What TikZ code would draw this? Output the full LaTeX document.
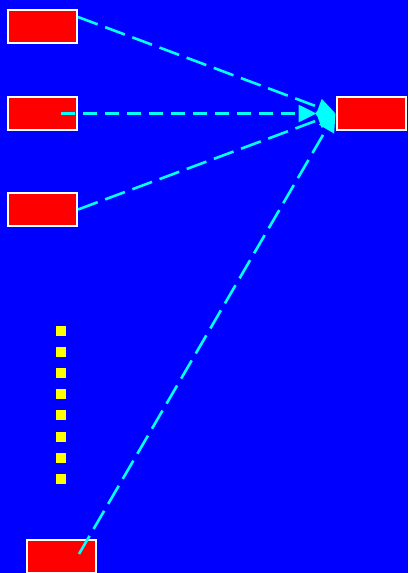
\documentclass[tikz,border=0pt]{standalone}
\usetikzlibrary{arrows.meta}
\definecolor{bg}{RGB}{0,0,255}
\definecolor{boxred}{RGB}{255,0,0}
\definecolor{cy}{RGB}{0,255,255}
\definecolor{yel}{RGB}{255,255,0}
\tikzset{
  redbox/.style={draw=white, fill=boxred, line width=2pt, minimum width=69pt, minimum height=33pt, inner sep=0pt},
  conn/.style={draw=cy, line width=2.6pt, -{Triangle[length=18pt,width=17pt]}},
  longdash/.style={dash pattern=on 21pt off 8pt},
  shortdash/.style={dash pattern=on 14pt off 8pt},
  ysq/.style={fill=yel}
}
\begin{document}
\begin{tikzpicture}[x=1pt,y=-1pt]
\useasboundingbox (0,0) rectangle (408,573);
\fill[bg] (0,0) rectangle (408,573);
\node[redbox] (a) at (42.5,26.5) {};
\node[redbox] (b) at (42.5,113.5) {};
\node[redbox] (c) at (42.5,209.5) {};
\node[redbox] (r) at (371,113.5) {};
\node[redbox] (d) at (61,556) {};
\coordinate (bs) at (61,113.5);
\coordinate (ds) at (79,554);
\foreach \i in {0,...,7} {
  \fill[ysq] (56,{325.5+21.2*\i}) rectangle (66,{335.5+21.2*\i});
}
\draw[conn,longdash] (a.15) -- (r.west);
\draw[conn,shortdash,shorten >=19pt] (bs) -- (r.west);
\draw[conn,longdash] (c.east) -- (r.west);
\draw[conn,longdash] (ds) -- (r.west);
\end{tikzpicture}
\end{document}
